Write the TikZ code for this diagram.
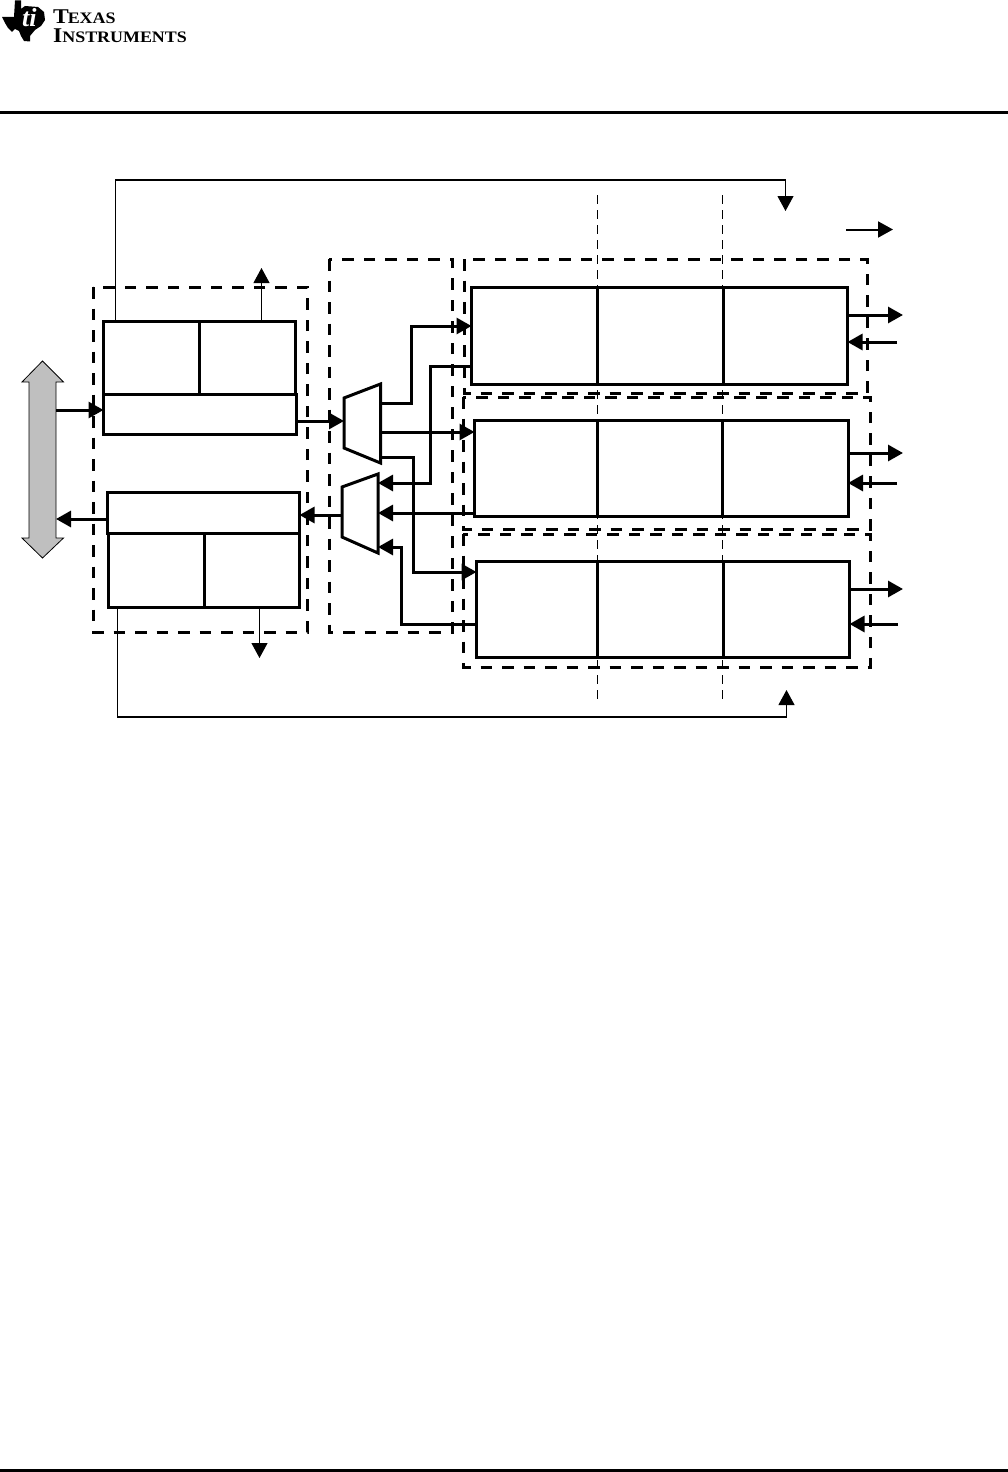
\documentclass[tikz,border=0pt]{standalone}
\usepackage{fontspec}
\setmainfont{Liberation Serif}
\usetikzlibrary{arrows.meta}
\tikzset{
  box/.style={draw,line width=3pt,anchor=north west,inner sep=0pt,outer sep=0pt},
  wire/.style={line width=3pt,line join=miter},
  thinwire/.style={line width=1.1pt},
  tipped/.style={-{Triangle[length=15pt,width=16pt]}},
  region/.style={draw,line width=3pt,dash pattern=on 11.5pt off 10pt},
  guide/.style={line width=1pt,dash pattern=on 9pt off 6pt},
  mux/.style={draw,line width=3pt,fill=white,line join=miter},
  logotext/.style={anchor=base west,inner sep=0pt,transform shape}
}
\begin{document}
\begin{tikzpicture}[x=1pt,y=-1pt]
\useasboundingbox (0,0) rectangle (1008,1472);
% header
\fill (0,110.6) rectangle (1008,113.6);
\fill (0,1469) rectangle (1008,1472);
\fill (15,0.5)--(21,0.5)--(21,9)--(25,6)--(38,7)--(44,12)--(45,20)--(41,26)--(35,30)--(30,36)--(30,41.5)--(24,41)--(21,36)--(19,31)--(15,29)--(12,32)--(8,28)--(5,23)--(2,17)--(14,17)--cycle;
\node[logotext,text=white] (logoti) at (22,27) {\fontsize{26}{26}\selectfont\bfseries\itshape ti};
\node[logotext,xscale=1.12] (logoa) at (53,24) {\fontsize{21}{21}\selectfont\bfseries T\kern-1pt\fontsize{16}{16}\selectfont EXAS};
\node[logotext,xscale=1.12] (logob) at (53,43) {\fontsize{21}{21}\selectfont\bfseries I\fontsize{16}{16}\selectfont NSTRUMENTS};
% guides
\coordinate (ga1) at (597,195); \coordinate (ga2) at (597,702);
\coordinate (gb1) at (722,195); \coordinate (gb2) at (722,702);
\draw[guide] (ga1)--(ga2);
\draw[guide] (gb1)--(gb2);
% dashed regions
\draw[region] (93,287) rectangle (307,632);
\draw[region] (329,259) rectangle (452,632);
\draw[region] (464,259) rectangle (867,393);
\draw[region] (463,397) rectangle (870,529);
\draw[region] (463,534) rectangle (870,667);
% left blocks
\node[box,minimum width=96pt,minimum height=73pt] (ta) at (103.5,321.5) {};
\node[box,minimum width=96pt,minimum height=73pt] (tb) at (199.5,321.5) {};
\node[box,minimum width=193pt,minimum height=40.5pt] (tc) at (103.5,394) {};
\node[box,minimum width=192pt,minimum height=41pt] (bc) at (107.5,492.5) {};
\node[box,minimum width=96.5pt,minimum height=73.5pt] (ba) at (108,533.5) {};
\node[box,minimum width=95pt,minimum height=73.5pt] (bb) at (204.5,533.5) {};
% right rows
\node[box,minimum width=126pt,minimum height=96.5pt] (r1a) at (471.5,287.5) {};
\node[box,minimum width=126pt,minimum height=96.5pt] (r1b) at (597.5,287.5) {};
\node[box,minimum width=124pt,minimum height=96.5pt] (r1c) at (723.5,287.5) {};
\node[box,minimum width=123pt,minimum height=96pt] (r2a) at (474.5,420.5) {};
\node[box,minimum width=124.5pt,minimum height=96pt] (r2b) at (597.5,420.5) {};
\node[box,minimum width=125.5pt,minimum height=95.5pt] (r2c) at (722.5,420.5) {};
\node[box,minimum width=121pt,minimum height=96pt] (r3a) at (476.5,561.5) {};
\node[box,minimum width=126pt,minimum height=96pt] (r3b) at (597.5,561.5) {};
\node[box,minimum width=126pt,minimum height=96pt] (r3c) at (723.5,561.5) {};
% bus
\draw[fill=black!25,line width=.8pt,line join=miter] (42.5,361)--(63.5,382)--(56,382)--(56,538)--(63.5,538)--(42.5,558)--(22,538)--(29,538)--(29,382)--(22,382)--cycle;
\coordinate (busr1) at (56,410); \coordinate (busr2) at (56,519);
% muxes
\coordinate (m1a) at (344,398); \coordinate (m1b) at (380.5,384);
\coordinate (m1c) at (380.5,463); \coordinate (m1d) at (344,448);
\coordinate (m2a) at (342,487); \coordinate (m2b) at (378,474);
\coordinate (m2c) at (378,553); \coordinate (m2d) at (342,537);
\draw[mux] (m1a)--(m1b)--(m1c)--(m1d)--cycle;
\draw[mux] (m2a)--(m2b)--(m2c)--(m2d)--cycle;
% heavy connectors
\draw[wire,tipped] (busr1)--(tc.west |- busr1);
\draw[wire,tipped] (ba.west |- busr2)--(busr2);
\draw[wire,tipped] (tc.east |- 0,421)--(344,421);
\draw[wire,tipped] (341,515)--(bc.east |- 0,515);
\draw[wire,tipped] (381,403)--(411,403)--(411,326)--(r1a.west |- 0,326);
\draw[wire,tipped] (381,432)--(r2a.west |- 0,432);
\draw[wire,tipped] (381,457)--(413,457)--(413,572)--(r3a.west |- 0,572);
\draw[wire,tipped] (r1a.west |- 0,366)--(430,366)--(430,483)--(378,483);
\draw[wire,tipped] (r2a.west |- 0,513)--(378,513);
\draw[wire,tipped] (r3a.west |- 0,624)--(401,624)--(401,547)--(378,547);
% right side ports
\coordinate (p1i) at (897,342); \coordinate (p2i) at (897,483); \coordinate (p3i) at (898,624);
\coordinate (p1o) at (903,315); \coordinate (p2o) at (903,453); \coordinate (p3o) at (903,589);
\draw[wire,tipped] (r1c.east |- p1o)--(p1o);
\draw[wire,tipped] (p1i)--(r1c.east |- p1i);
\draw[wire,tipped] (r2c.east |- p2o)--(p2o);
\draw[wire,tipped] (p2i)--(r2c.east |- p2i);
\draw[wire,tipped] (r3c.east |- p3o)--(p3o);
\draw[wire,tipped] (p3i)--(r3c.east |- p3i);
% thin connectors
\coordinate (tup) at (261.5,268); \coordinate (bdn) at (259.5,658);
\coordinate (topend) at (785.5,211); \coordinate (botend) at (786.5,690);
\draw[thinwire,tipped] (tb.north -| tup)--(tup);
\draw[thinwire,tipped] (bb.south -| bdn)--(bdn);
\draw[thinwire,tipped] (ta.north -| 115.5,0)--(115.5,180)--(785.5,180)--(topend);
\draw[thinwire,tipped] (ba.south -| 117.5,0)--(117.5,717)--(786.5,717)--(botend);
\coordinate (lega) at (846,229.5); \coordinate (legb) at (893,229.5);
\draw[line width=2pt,tipped] (lega)--(legb);
\end{tikzpicture}
\end{document}
